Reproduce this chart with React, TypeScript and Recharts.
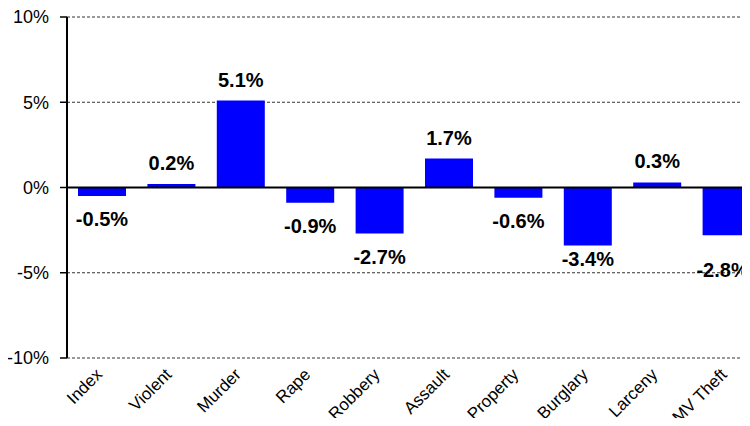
import { BarChart, Bar, XAxis, YAxis, CartesianGrid, ReferenceLine, LabelList } from "recharts";

const categories = ["Index", "Violent", "Murder", "Rape", "Robbery", "Assault", "Property", "Burglary", "Larceny", "MV Theft"];
const changes = [-0.5, 0.2, 5.1, -0.9, -2.7, 1.7, -0.6, -3.4, 0.3, -2.8];
const yTicks = [-10, -5, 0, 5, 10];

const data = categories.map((name, i) => ({ name, value: changes[i] }));

const FONT = "Liberation Sans, Arial, sans-serif";

// a couple of labels in the original were dragged by hand
const nudge: Record<string, [number, number]> = {
  Burglary: [0, -9],
  "MV Theft": [-4, 12],
};

const ValueLabel = (props: any) => {
  const { x, y, width, height, value, index } = props;
  const top = Math.min(y, y + height);
  const bottom = Math.max(y, y + height);
  const [dx, dy] = nudge[categories[index]] ?? [0, 0];
  const cy = value >= 0 ? top - 21 : bottom + 23;
  return (
    <text
      x={x + width / 2 + dx}
      y={cy + dy}
      textAnchor="middle"
      dominantBaseline="central"
      fontFamily={FONT}
      fontWeight="bold"
      fontSize={20}
      fill="#000"
    >
      {value.toFixed(1)}%
    </text>
  );
};

const XTick = (props: any) => {
  const { x, y, payload } = props;
  return (
    <g transform={`translate(${x - 2},${y + 6})`}>
      <text textAnchor="end" transform="rotate(-45)" fontFamily={FONT} fontSize={17} fill="#000" dy={5}>
        {payload.value}
      </text>
    </g>
  );
};

export default function App() {
  return (
    <div style={{ width: 750, height: 426, overflow: "hidden", margin: -8, background: "#fff" }}>
      <BarChart
        width={775}
        height={426}
        data={data}
        margin={{ top: 17, right: 14, bottom: 0, left: 0 }}
      >
        <CartesianGrid horizontal vertical={false} stroke="#333" strokeDasharray="3 2" />
        <XAxis
          dataKey="name"
          axisLine={false}
          tickLine={false}
          height={68}
          interval={0}
          tick={<XTick />}
        />
        <YAxis
          domain={[-10, 10]}
          ticks={yTicks}
          width={67}
          axisLine={{ stroke: "#000", strokeWidth: 2 }}
          tickLine={{ stroke: "#000", strokeWidth: 1.5 }}
          tickSize={7}
          tickFormatter={(v: number) => `${v}%`}
          tick={{ fontFamily: FONT, fontSize: 18, fill: "#000", dx: -9 }}
        />
        <ReferenceLine y={0} stroke="#000" strokeWidth={2} />
        <Bar dataKey="value" fill="#0000ff" barSize={48} isAnimationActive={false}>
          <LabelList dataKey="value" content={<ValueLabel />} />
        </Bar>
      </BarChart>
    </div>
  );
}
